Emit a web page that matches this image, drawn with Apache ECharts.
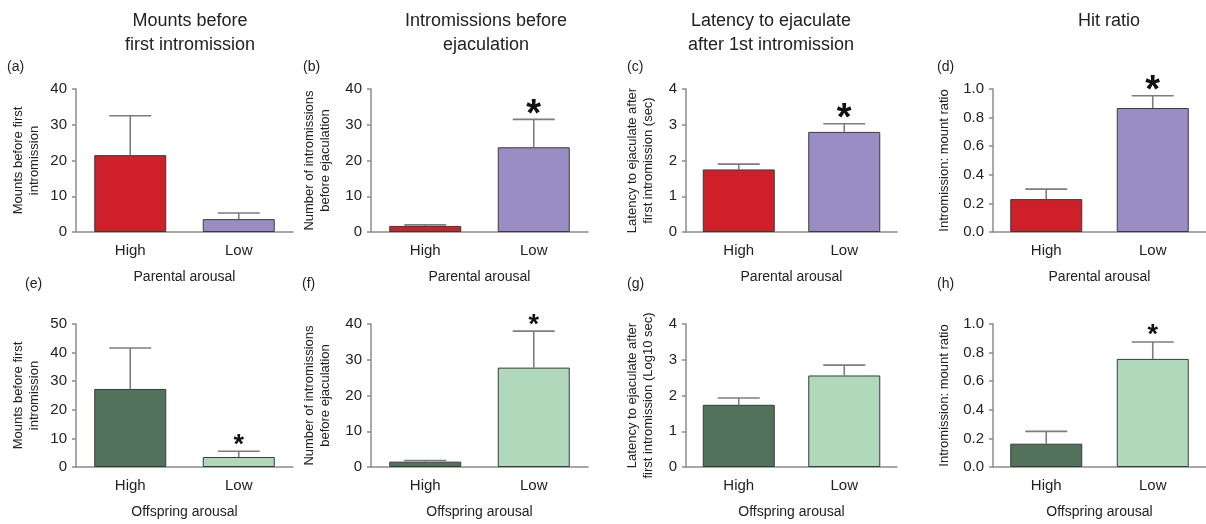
<!DOCTYPE html>
<html>
<head>
<meta charset="utf-8">
<script src="https://cdn.jsdelivr.net/npm/echarts@6/dist/echarts.min.js"></script>
<style>
html, body { margin: 0; padding: 0; background: #fff; }
#chart { width: 1206px; height: 524px; }
</style>
</head>
<body>
<div id="chart"></div>
<script>
var categories = ['High', 'Low'];

// group means and upper error (SEM)
var mountsParental = [21.5, 3.6];
var mountsParentalSem = [11.0, 1.7];
var intromParental = [1.7, 23.7];
var intromParentalSem = [0.3, 7.8];
var latencyParental = [1.75, 2.80];
var latencyParentalSem = [0.15, 0.23];
var hitParental = [0.23, 0.867];
var hitParentalSem = [0.07, 0.086];

var mountsOffspring = [27.3, 3.5];
var mountsOffspringSem = [14.3, 2.0];
var intromOffspring = [1.5, 27.8];
var intromOffspringSem = [0.3, 10.2];
var latencyOffspring = [1.74, 2.56];
var latencyOffspringSem = [0.19, 0.29];
var hitOffspring = [0.163, 0.756];
var hitOffspringSem = [0.086, 0.118];

// which bars carry an asterisk
var sigA = [false, false], sigB = [false, true], sigC = [false, true], sigD = [false, true];
var sigE = [false, true], sigF = [false, true], sigG = [false, false], sigH = [false, true];

var parentalColors = ['#cf1f28', '#9a8cc4'];
var offspringColors = ['#52725c', '#b0d9bb'];

var panels = [
  { label: '(a)', mean: mountsParental, sem: mountsParentalSem, sig: sigA, max: 40, step: 10, yName: 'Mounts before first\nintromission', xName: 'Parental arousal', colors: parentalColors },
  { label: '(b)', mean: intromParental, sem: intromParentalSem, sig: sigB, max: 40, step: 10, yName: 'Number of intromissions\nbefore ejaculation', xName: 'Parental arousal', colors: parentalColors },
  { label: '(c)', mean: latencyParental, sem: latencyParentalSem, sig: sigC, max: 4, step: 1, yName: 'Latency to ejaculate after\nfirst intromission (sec)', xName: 'Parental arousal', colors: parentalColors },
  { label: '(d)', mean: hitParental, sem: hitParentalSem, sig: sigD, max: 1, step: 0.2, yName: 'Intromission: mount ratio', xName: 'Parental arousal', colors: parentalColors, fixed: 1 },
  { label: '(e)', mean: mountsOffspring, sem: mountsOffspringSem, sig: sigE, max: 50, step: 10, yName: 'Mounts before first\nintromission', xName: 'Offspring arousal', colors: offspringColors },
  { label: '(f)', mean: intromOffspring, sem: intromOffspringSem, sig: sigF, max: 40, step: 10, yName: 'Number of intromissions\nbefore ejaculation', xName: 'Offspring arousal', colors: offspringColors },
  { label: '(g)', mean: latencyOffspring, sem: latencyOffspringSem, sig: sigG, max: 4, step: 1, yName: 'Latency to ejaculate after\nfirst intromission (Log10 sec)', xName: 'Offspring arousal', colors: offspringColors },
  { label: '(h)', mean: hitOffspring, sem: hitOffspringSem, sig: sigH, max: 1, step: 0.2, yName: 'Intromission: mount ratio', xName: 'Offspring arousal', colors: offspringColors, fixed: 1 }
];

var columnTitles = ['Mounts before\nfirst intromission', 'Intromissions before\nejaculation', 'Latency to ejaculate\nafter 1st intromission', 'Hit ratio'];

// layout
var gridLeft = [76, 371, 686, 993];
var gridWidth = [217, 217, 211, 213];
var gridTop = [89, 324];
var gridHeight = 143;
var nameGap = [34, 38, 30, 41];
var titleX = [190, 486, 771, 1109];
var labelPos = [[7, 60], [303, 60], [627, 60], [937, 60], [25, 277], [302, 277], [627, 277], [937, 277]];

var font = 'Liberation Sans, Arial, Helvetica, sans-serif';
var axisGray = '#8c8c8c';

var grids = [], xAxes = [], yAxes = [], series = [], graphics = [];

panels.forEach(function (p, i) {
  var col = i % 4, row = Math.floor(i / 4);
  grids.push({ left: gridLeft[col], top: gridTop[row], width: gridWidth[col], height: gridHeight });
  xAxes.push({
    type: 'category', gridIndex: i, data: categories,
    name: p.xName, nameLocation: 'middle', nameGap: 38,
    nameTextStyle: { fontSize: 14, color: '#222' },
    axisLine: { lineStyle: { color: axisGray, width: 1.5 } },
    axisTick: { alignWithLabel: true, length: 5, lineStyle: { color: axisGray, width: 1.5 } },
    axisLabel: { fontSize: 15, color: '#222', margin: 11 }
  });
  yAxes.push({
    type: 'value', gridIndex: i, min: 0, max: p.max, interval: p.step,
    name: p.yName, nameLocation: 'middle', nameRotate: 90, nameGap: nameGap[col],
    nameTextStyle: { fontSize: 13, lineHeight: 16, color: '#222' },
    splitLine: { show: false },
    axisLine: { show: true, lineStyle: { color: axisGray, width: 1.5 } },
    axisTick: { show: true, length: 4, lineStyle: { color: axisGray, width: 1.5 } },
    axisLabel: {
      fontSize: 15, color: '#222', margin: 9,
      formatter: function (v) { return p.fixed ? v.toFixed(p.fixed) : String(v); }
    }
  });
  series.push({
    type: 'bar', xAxisIndex: i, yAxisIndex: i, barWidth: 72,
    data: p.mean.map(function (v, k) {
      return { value: v, itemStyle: { color: p.colors[k] } };
    }),
    itemStyle: { borderColor: '#3a3a3a', borderWidth: 1 },
    animation: false
  });
  var starSize = row === 0 ? 38 : 27;
  var starLift = row === 0 ? 4 : 6;
  series.push({
    type: 'custom', xAxisIndex: i, yAxisIndex: i, z: 5,
    data: p.mean.map(function (v, k) { return [k, v, v + p.sem[k], p.sig[k] ? 1 : 0]; }),
    encode: { x: 0, y: 2 },
    renderItem: function (params, api) {
      var base = api.coord([api.value(0), api.value(1)]);
      var top = api.coord([api.value(0), api.value(2)]);
      var st = { stroke: '#7d7d7d', lineWidth: 1.6 };
      var kids = [
        { type: 'line', shape: { x1: top[0], y1: base[1], x2: top[0], y2: top[1] }, style: st },
        { type: 'line', shape: { x1: top[0] - 21, y1: top[1], x2: top[0] + 21, y2: top[1] }, style: st }
      ];
      if (api.value(3)) {
        kids.push({
          type: 'text', x: top[0], y: top[1] - starLift,
          style: { text: '*', fill: '#111', fontSize: starSize, fontWeight: 'bold', fontFamily: font, align: 'center', verticalAlign: 'middle' }
        });
      }
      return { type: 'group', children: kids };
    },
    animation: false
  });
  graphics.push({
    type: 'text', x: labelPos[i][0], y: labelPos[i][1],
    style: { text: p.label, fill: '#222', fontSize: 14, fontFamily: font }
  });
});

columnTitles.forEach(function (t, c) {
  graphics.push({
    type: 'text', x: titleX[c], y: 9,
    style: { text: t, fill: '#222', fontSize: 18, lineHeight: 24, fontFamily: font, align: 'center', verticalAlign: 'top' }
  });
});

var myChart = echarts.init(document.getElementById('chart'));
myChart.setOption({
  backgroundColor: '#fff',
  textStyle: { fontFamily: font },
  animation: false,
  grid: grids,
  xAxis: xAxes,
  yAxis: yAxes,
  series: series,
  graphic: graphics
});
</script>
</body>
</html>
